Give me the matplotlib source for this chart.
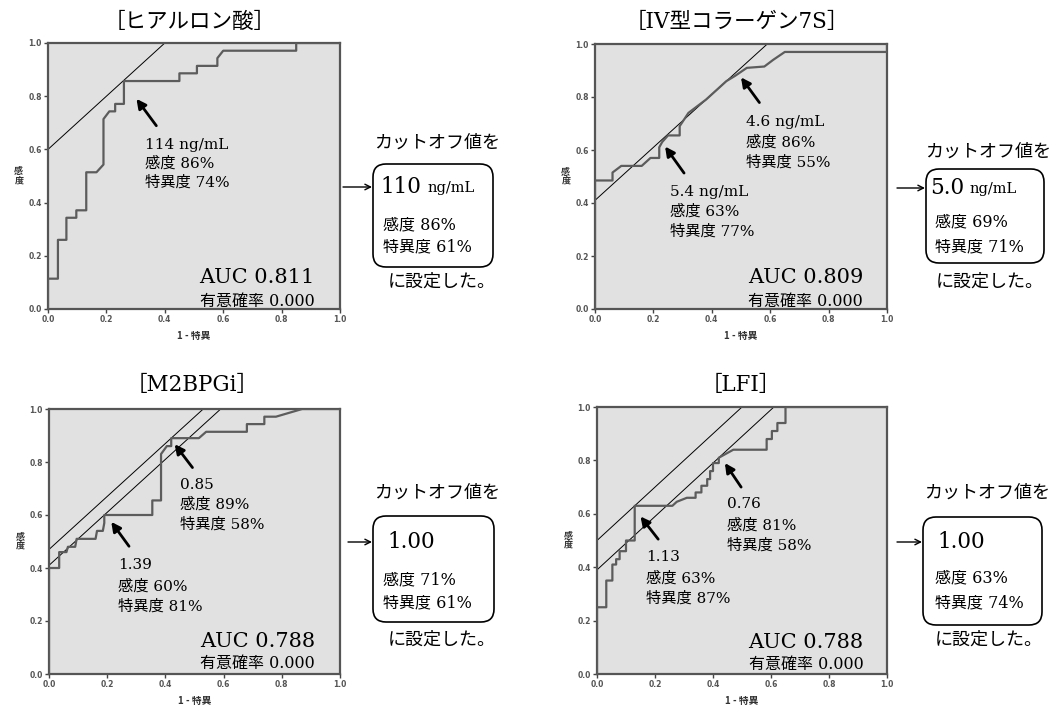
import matplotlib.pyplot as plt
from matplotlib.patches import FancyBboxPatch

# ROC curves (1 - specificity, sensitivity) for each marker
fpr_ha = [0, 0, 0.034, 0.034, 0.063, 0.063, 0.097, 0.097, 0.131, 0.131, 0.166, 0.19, 0.19, 0.21,
          0.23, 0.23, 0.26, 0.26, 0.45, 0.45, 0.51, 0.51, 0.58, 0.58, 0.6, 0.85, 0.85, 1.0]
tpr_ha = [0, 0.114, 0.114, 0.26, 0.26, 0.343, 0.343, 0.371, 0.371, 0.514, 0.514, 0.543, 0.714, 0.743,
          0.743, 0.771, 0.771, 0.857, 0.857, 0.886, 0.886, 0.914, 0.914, 0.943, 0.971, 0.971, 1.0, 1.0]

fpr_7s = [0, 0, 0.06, 0.06, 0.09, 0.16, 0.19, 0.22, 0.22, 0.23, 0.25, 0.29, 0.29, 0.32, 0.38,
          0.45, 0.48, 0.52, 0.58, 0.61, 0.65, 1.0, 1.0]
tpr_7s = [0, 0.485, 0.485, 0.515, 0.54, 0.54, 0.57, 0.57, 0.61, 0.63, 0.655, 0.655, 0.69, 0.74, 0.79,
          0.86, 0.88, 0.91, 0.915, 0.94, 0.97, 0.97, 1.0]

fpr_m2 = [0, 0, 0.035, 0.035, 0.06, 0.065, 0.09, 0.095, 0.16, 0.165, 0.185, 0.19, 0.19, 0.355, 0.355,
          0.385, 0.385, 0.405, 0.42, 0.42, 0.515, 0.54, 0.68, 0.68, 0.74, 0.74, 0.78, 0.87, 1.0]
tpr_m2 = [0, 0.40, 0.40, 0.46, 0.46, 0.48, 0.48, 0.51, 0.51, 0.54, 0.54, 0.57, 0.60, 0.60, 0.655,
          0.655, 0.83, 0.86, 0.86, 0.89, 0.89, 0.914, 0.914, 0.943, 0.943, 0.971, 0.971, 1.0, 1.0]

fpr_lfi = [0, 0, 0.032, 0.032, 0.053, 0.053, 0.066, 0.066, 0.078, 0.078, 0.1, 0.1, 0.13, 0.13, 0.26,
           0.275, 0.31, 0.34, 0.34, 0.36, 0.36, 0.38, 0.38, 0.39, 0.39, 0.40, 0.40, 0.42, 0.42, 0.47,
           0.585, 0.585, 0.603, 0.603, 0.622, 0.622, 0.65, 0.65, 1.0]
tpr_lfi = [0, 0.25, 0.25, 0.35, 0.35, 0.41, 0.41, 0.43, 0.43, 0.46, 0.46, 0.50, 0.50, 0.63, 0.63,
           0.645, 0.66, 0.66, 0.68, 0.68, 0.705, 0.705, 0.73, 0.73, 0.76, 0.76, 0.79, 0.79, 0.81, 0.84,
           0.84, 0.88, 0.88, 0.91, 0.91, 0.94, 0.94, 1.0, 1.0]

titles = ["［ヒアルロン酸］", "［IV型コラーゲン7S］", "［M2BPGi］", "［LFI］"]
auc_values = ["0.811", "0.809", "0.788", "0.788"]
p_values = ["0.000", "0.000", "0.000", "0.000"]

# candidate cut-offs: label, sensitivity %, specificity %
cuts_ha = [("114 ng/mL", 86, 74)]
cuts_7s = [("4.6 ng/mL", 86, 55), ("5.4 ng/mL", 63, 77)]
cuts_m2 = [("0.85", 89, 58), ("1.39", 60, 81)]
cuts_lfi = [("0.76", 81, 58), ("1.13", 63, 87)]

# chosen cut-offs: value, unit, sensitivity %, specificity %
chosen_values = ["110", "5.0", "1.00", "1.00"]
chosen_units = ["ng/mL", "ng/mL", "", ""]
chosen_sens = [86, 69, 71, 63]
chosen_spec = [61, 71, 61, 74]

W, H = 1061, 707
SERIF = ["DejaVu Serif", "Noto Sans CJK JP", "DejaVu Sans"]
CJK = ["Noto Sans CJK JP", "DejaVu Sans"]

fig = plt.figure(figsize=(W / 100, H / 100), dpi=100)
fig.patch.set_facecolor("white")


def px_axes(x0, y0, x1, y1):
    return fig.add_axes([x0 / W, 1 - y1 / H, (x1 - x0) / W, (y1 - y0) / H])


# per panel: axes box in pixels, title centre, text/arrow placement per cut-off, AUC text position
layout = [
    dict(box=(48, 43, 340, 309), title=(190, 22),
         notes=[((0.331, [0.618, 0.549, 0.474]), (0.371, 0.689), (0.303, 0.79))],
         auc=(0.914, 0.117, 0.029)),
    dict(box=(595, 44, 887, 309), title=(737, 22),
         notes=[((0.518, [0.705, 0.628, 0.553]), (0.563, 0.779), (0.50, 0.874)),
                ((0.257, [0.443, 0.368, 0.293]), (0.305, 0.513), (0.24, 0.613))],
         auc=(0.918, 0.117, 0.029)),
    dict(box=(49, 409, 340, 674), title=(192, 385),
         notes=[((0.45, [0.712, 0.641, 0.565]), (0.493, 0.779), (0.432, 0.867)),
                ((0.237, [0.411, 0.329, 0.254]), (0.275, 0.482), (0.214, 0.574))],
         auc=(0.914, 0.122, 0.038)),
    dict(box=(597, 407, 887, 674), title=(741, 385),
         notes=[((0.449, [0.636, 0.556, 0.48]), (0.497, 0.70), (0.441, 0.79)),
                ((0.168, [0.4375, 0.359, 0.284]), (0.211, 0.505), (0.15, 0.59))],
         auc=(0.919, 0.119, 0.034)),
]

curves = [(fpr_ha, tpr_ha), (fpr_7s, tpr_7s), (fpr_m2, tpr_m2), (fpr_lfi, tpr_lfi)]
cut_sets = [cuts_ha, cuts_7s, cuts_m2, cuts_lfi]

for i, lay in enumerate(layout):
    ax = px_axes(*lay["box"])
    ax.set_facecolor("#e1e1e1")
    fpr, tpr = curves[i]
    ax.plot(fpr, tpr, color="#5c5c5c", lw=1.6, zorder=3)

    drawn = []
    for (label, sens, spec), ((tx, ty), tail, head) in zip(cut_sets[i], lay["notes"]):
        x_pt, y_pt = 1 - spec / 100, sens / 100
        b = y_pt - x_pt
        # slope-1 reference line through the cut-off point (one per distinct intercept)
        if all(abs(b - d) > 0.03 for d in drawn):
            ax.plot([0, 1 - b], [b, 1], color="black", lw=0.7, zorder=2)
            drawn.append(b)
        ax.annotate("", xy=head, xytext=tail,
                    arrowprops=dict(arrowstyle="-|>,head_length=0.55,head_width=0.28",
                                    color="black", lw=2, shrinkA=0, shrinkB=0))
        for txt, yy in zip([label, f"感度 {sens}%", f"特異度 {spec}%"], ty):
            ax.text(tx, yy, txt, family=SERIF, fontsize=11, ha="left", va="center")

    ax_x, y_auc, y_p = lay["auc"]
    ax.text(ax_x, y_auc, f"AUC {auc_values[i]}", family=SERIF, fontsize=15,
            ha="right", va="center")
    ax.text(ax_x, y_p, f"有意確率 {p_values[i]}", family=SERIF, fontsize=11.5,
            ha="right", va="center")

    ax.set_xlim(0, 1)
    ax.set_ylim(0, 1)
    ticks = [0, 0.2, 0.4, 0.6, 0.8, 1.0]
    ax.set_xticks(ticks)
    ax.set_yticks(ticks)
    ax.set_xticklabels([f"{t:.1f}" for t in ticks])
    ax.set_yticklabels([f"{t:.1f}" for t in ticks])
    ax.tick_params(length=3, width=1, color="#444444", labelsize=5.5,
                   labelcolor="#555555", pad=1.5)
    for lbl in ax.get_xticklabels() + ax.get_yticklabels():
        lbl.set_fontweight("bold")
    for sp in ax.spines.values():
        sp.set_color("#555555")
        sp.set_linewidth(1.6)

    ax.text(-0.1, 0.5, "感\n度", transform=ax.transAxes, family=CJK, fontsize=6.5,
            fontweight="bold", ha="center", va="center", color="#333333", linespacing=1.0)
    ax.text(0.5, -0.1, "1 - 特異", transform=ax.transAxes, family=CJK, fontsize=7,
            fontweight="bold", ha="center", va="center", color="#333333")

# overlay in pixel coordinates for titles and cut-off boxes
ov = fig.add_axes([0, 0, 1, 1], facecolor="none")
ov.set_xlim(0, W)
ov.set_ylim(H, 0)
ov.axis("off")

for i, lay in enumerate(layout):
    tx, ty = lay["title"]
    ov.text(tx, ty, titles[i], family=SERIF, fontsize=15.5, ha="center", va="center")

# cut-off boxes: box rect, arrow start, header y, value/text x positions
boxes = [
    dict(rect=(373, 164, 493, 267), arrow_x=343, arrow_y=187, head_y=143, cx=437,
         val_x=380, unit_x=428, line_x=383, lines_y=(225, 247), foot=(442, 282)),
    dict(rect=(926, 169, 1044, 263), arrow_x=897, arrow_y=188, head_y=152, cx=988,
         val_x=930, unit_x=970, line_x=935, lines_y=(222, 247), foot=(990, 282)),
    dict(rect=(373, 516, 494, 622), arrow_x=348, arrow_y=542, head_y=493, cx=437,
         val_x=387, unit_x=0, line_x=383, lines_y=(580, 603), foot=(442, 640)),
    dict(rect=(923, 517, 1042, 625), arrow_x=897, arrow_y=542, head_y=493, cx=987,
         val_x=937, unit_x=0, line_x=935, lines_y=(578, 603), foot=(989, 640)),
]

for i, bx in enumerate(boxes):
    x0, y0, x1, y1 = bx["rect"]
    ov.add_patch(FancyBboxPatch((x0, y0), x1 - x0, y1 - y0,
                                boxstyle="round,pad=0,rounding_size=13",
                                facecolor="white", edgecolor="black", lw=1.2))
    ov.annotate("", xy=(x0 - 1, bx["arrow_y"]), xytext=(bx["arrow_x"], bx["arrow_y"]),
                arrowprops=dict(arrowstyle="->", color="black", lw=1.0,
                                shrinkA=0, shrinkB=0))
    ov.text(bx["cx"], bx["head_y"], "カットオフ値を", family=CJK, fontsize=13,
            ha="center", va="center")
    ov.text(bx["val_x"], bx["arrow_y"], chosen_values[i], family=SERIF, fontsize=15.5,
            ha="left", va="center")
    if chosen_units[i]:
        ov.text(bx["unit_x"], bx["arrow_y"] + 1, chosen_units[i], family=SERIF,
                fontsize=10.5, ha="left", va="center")
    ly1, ly2 = bx["lines_y"]
    ov.text(bx["line_x"], ly1, f"感度 {chosen_sens[i]}%", family=SERIF, fontsize=11.5,
            ha="left", va="center")
    ov.text(bx["line_x"], ly2, f"特異度 {chosen_spec[i]}%", family=SERIF, fontsize=11.5,
            ha="left", va="center")
    fx, fy = bx["foot"]
    ov.text(fx, fy, "に設定した。", family=CJK, fontsize=13, ha="center", va="center")

fig.savefig("out.png", dpi=100, facecolor="white")
